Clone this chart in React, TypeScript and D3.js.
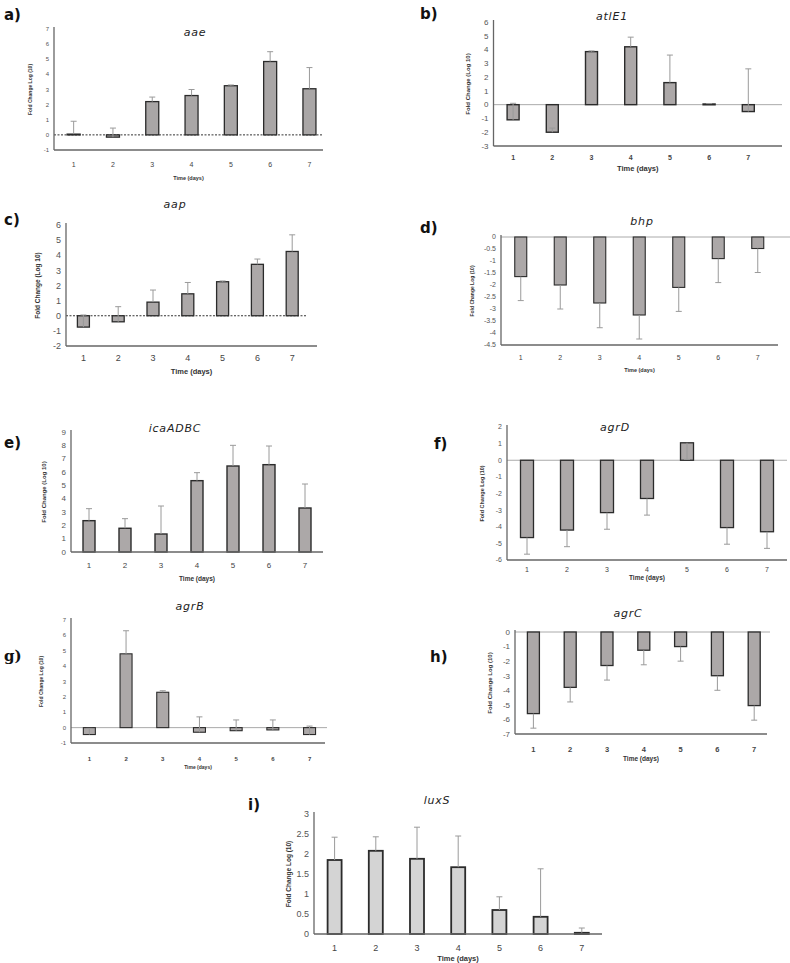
import React from "react";
import * as d3 from "d3";

const days = ["1", "2", "3", "4", "5", "6", "7"];

const aaeValues = [0.05, -0.15, 2.2, 2.6, 3.25, 4.85, 3.05];
const aaeErrors = [0.85, 0.6, 0.3, 0.4, 0.05, 0.65, 1.4];
const atlE1Values = [-1.1, -2.0, 3.85, 4.2, 1.6, 0.05, -0.5];
const atlE1Errors = [1.2, 0.3, 0.05, 0.7, 2.0, 0.03, 3.1];
const aapValues = [-0.75, -0.4, 0.9, 1.45, 2.25, 3.4, 4.25];
const aapErrors = [0.8, 1.0, 0.8, 0.75, 0.05, 0.35, 1.1];
const bhpValues = [-1.65, -2.0, -2.75, -3.25, -2.1, -0.9, -0.48];
const bhpErrors = [1.0, 1.0, 1.03, 1.0, 1.0, 1.0, 1.0];
const icaValues = [2.35, 1.78, 1.35, 5.35, 6.45, 6.55, 3.3];
const icaErrors = [0.9, 0.72, 2.1, 0.6, 1.55, 1.4, 1.8];
const agrDValues = [-4.65, -4.2, -3.15, -2.3, 1.05, -4.05, -4.3];
const agrDErrors = [1.0, 1.0, 1.0, 1.0, 1.0, 1.0, 1.0];
const agrBValues = [-0.45, 4.8, 2.3, -0.3, -0.2, -0.15, -0.45];
const agrBErrors = [0.4, 1.5, 0.1, 1.0, 0.7, 0.65, 0.55];
const agrCValues = [-5.6, -3.8, -2.3, -1.25, -1.0, -3.0, -5.05];
const agrCErrors = [1.0, 1.0, 1.0, 1.0, 1.0, 1.0, 1.0];
const luxSValues = [1.85, 2.08, 1.88, 1.67, 0.6, 0.43, 0.03];
const luxSErrors = [0.57, 0.35, 0.79, 0.78, 0.33, 1.2, 0.12];

const ticksA = d3.range(-1, 8, 1);
const ticksB = d3.range(-3, 7, 1);
const ticksC = d3.range(-2, 7, 1);
const ticksD = d3.range(0, -5, -0.5);
const ticksE = d3.range(0, 10, 1);
const ticksF = d3.range(-6, 3, 1);
const ticksG = d3.range(-1, 8, 1);
const ticksH = d3.range(-7, 1, 1);
const ticksI = d3.range(0, 3.5, 0.5);

type Panel = {
  label: string; labelX: number; labelY: number; labelFont?: string;
  title: string; titleX: number; titleY: number;
  values: number[]; errors: number[]; dir: number;
  ticks: number[]; yTop: number; yBottom: number;
  x0: number; step: number; axisEnd: number; barW: number;
  zero: "dash" | "solid" | "none"; zeroEnd: number;
  tickFont: number; catY: number; catFont: number; catBold?: boolean;
  xLabelY: number; xLabelFont: number; yLabelX: number; yLabelFont: number; yLabelText: string;
  fill: string; strokeW: number;
};

const panels: Panel[] = [
  { label: "a)", labelX: 4, labelY: 20, title: "aae", titleX: 195, titleY: 36,
    values: aaeValues, errors: aaeErrors, dir: 1, ticks: ticksA, yTop: 29, yBottom: 150,
    x0: 54, step: 39.3, axisEnd: 323, barW: 13, zero: "dash", zeroEnd: 323,
    tickFont: 6, catY: 165, catFont: 7, xLabelY: 180, xLabelFont: 5.5, yLabelX: 30, yLabelFont: 5, yLabelText: "Fold Change Log (10)",
    fill: "#a9a6a6", strokeW: 1.3 },
  { label: "b)", labelX: 420, labelY: 19, title: "atlE1", titleX: 612, titleY: 20,
    values: atlE1Values, errors: atlE1Errors, dir: 1, ticks: ticksB, yTop: 22, yBottom: 146,
    x0: 493.5, step: 39.2, axisEnd: 782, barW: 12, zero: "solid", zeroEnd: 782,
    tickFont: 8, catY: 158, catFont: 7, catBold: true, xLabelY: 171, xLabelFont: 7.5, yLabelX: 468, yLabelFont: 6, yLabelText: "Fold Change (Log 10)",
    fill: "#aca8a8", strokeW: 1.4 },
  { label: "c)", labelX: 4, labelY: 225, title: "aap", titleX: 175, titleY: 208,
    values: aapValues, errors: aapErrors, dir: 1, ticks: ticksC, yTop: 225, yBottom: 346,
    x0: 66, step: 34.8, axisEnd: 317, barW: 12, zero: "dash", zeroEnd: 307,
    tickFont: 9, catY: 358, catFont: 9, xLabelY: 374, xLabelFont: 7.5, yLabelX: 38, yLabelFont: 6.5, yLabelText: "Fold Change (Log 10)",
    fill: "#aca8a8", strokeW: 1.3 },
  { label: "d)", labelX: 420, labelY: 233, title: "bhp", titleX: 642, titleY: 225,
    values: bhpValues, errors: bhpErrors, dir: -1, ticks: ticksD, yTop: 237, yBottom: 345,
    x0: 501, step: 39.5, axisEnd: 778, barW: 12, zero: "solid", zeroEnd: 790,
    tickFont: 7, catY: 358, catFont: 7, xLabelY: 372, xLabelFont: 5.5, yLabelX: 472, yLabelFont: 5, yLabelText: "Fold Change Log (10)",
    fill: "#aca8a8", strokeW: 1.1 },
  { label: "e)", labelX: 4, labelY: 448, title: "icaADBC", titleX: 175, titleY: 432,
    values: icaValues, errors: icaErrors, dir: 1, ticks: ticksE, yTop: 432, yBottom: 552,
    x0: 71, step: 36, axisEnd: 323, barW: 12, zero: "none", zeroEnd: 323,
    tickFont: 8, catY: 565, catFont: 8, xLabelY: 581, xLabelFont: 6.5, yLabelX: 44, yLabelFont: 6, yLabelText: "Fold Change (Log 10)",
    fill: "#aca8a8", strokeW: 1.4 },
  { label: "f)", labelX: 434, labelY: 449, title: "agrD", titleX: 615, titleY: 431,
    values: agrDValues, errors: agrDErrors, dir: -1, ticks: ticksF, yTop: 427, yBottom: 560,
    x0: 507, step: 40, axisEnd: 787, barW: 13, zero: "solid", zeroEnd: 787,
    tickFont: 7, catY: 570, catFont: 7, xLabelY: 580, xLabelFont: 6.5, yLabelX: 482, yLabelFont: 5.5, yLabelText: "Fold Change Log (10)",
    fill: "#aca8a8", strokeW: 1.3 },
  { label: "g)", labelX: 4, labelY: 661, labelFont: "DejaVu Serif, serif", title: "agrB", titleX: 190, titleY: 610,
    values: agrBValues, errors: agrBErrors, dir: 1, ticks: ticksG, yTop: 620, yBottom: 743,
    x0: 71, step: 36.7, axisEnd: 325, barW: 12, zero: "solid", zeroEnd: 327,
    tickFont: 6, catY: 759, catFont: 6, catBold: true, xLabelY: 769, xLabelFont: 5, yLabelX: 41, yLabelFont: 5, yLabelText: "Fold Change Log (10)",
    fill: "#aca8a8", strokeW: 1.1 },
  { label: "h)", labelX: 430, labelY: 662, title: "agrC", titleX: 628, titleY: 617,
    values: agrCValues, errors: agrCErrors, dir: -1, ticks: ticksH, yTop: 632, yBottom: 734,
    x0: 515, step: 36.8, axisEnd: 767, barW: 12, zero: "solid", zeroEnd: 770,
    tickFont: 8, catY: 749, catFont: 7.5, catBold: true, xLabelY: 761, xLabelFont: 6.5, yLabelX: 490, yLabelFont: 6, yLabelText: "Fold Change Log (10)",
    fill: "#aca8a8", strokeW: 1.3 },
  { label: "i)", labelX: 248, labelY: 810, title: "luxS", titleX: 437, titleY: 804,
    values: luxSValues, errors: luxSErrors, dir: 1, ticks: ticksI, yTop: 814, yBottom: 934,
    x0: 314, step: 41.2, axisEnd: 602, barW: 14, zero: "none", zeroEnd: 602,
    tickFont: 9, catY: 948, catFont: 9, xLabelY: 961, xLabelFont: 7.5, yLabelX: 289, yLabelFont: 6.5, yLabelText: "Fold Change Log (10)",
    fill: "#d4d4d4", strokeW: 1.8 },
];

const sans = "'Liberation Sans', Arial, sans-serif";

function PanelChart({ p }: { p: Panel }) {
  const x1 = p.x0 + p.step * 7;
  const pad = 1 - p.barW / p.step;
  const x = d3.scaleBand<string>().domain(days).range([p.x0, x1]).paddingInner(pad).paddingOuter(pad / 2);
  const [lo, hi] = d3.extent(p.ticks) as [number, number];
  const y = d3.scaleLinear().domain([lo, hi]).range([p.yBottom, p.yTop]);
  const cx = (d: string) => (x(d) as number) + x.bandwidth() / 2;
  const capW = 3;
  return (
    <g>
      <text x={p.labelX} y={p.labelY} fontFamily={p.labelFont || "'DejaVu Sans', sans-serif"} fontWeight="bold" fontSize={15} fill="#111">{p.label}</text>
      <text x={p.titleX} y={p.titleY} fontFamily="'DejaVu Sans', sans-serif" fontStyle="italic" fontSize={11} letterSpacing={0.8} textAnchor="middle" fill="#222">{p.title}</text>
      {p.ticks.map((t) => (
        <text key={t} x={p.x0 - 5} y={y(t)} dy="0.35em" textAnchor="end" fontFamily={sans} fontSize={p.tickFont} fill="#555">{t}</text>
      ))}
      {p.zero !== "none" && (
        <line x1={p.x0} x2={p.zeroEnd} y1={y(0)} y2={y(0)}
          stroke={p.zero === "dash" ? "#333" : "#aaa"} strokeWidth={p.zero === "dash" ? 1 : 1}
          strokeDasharray={p.zero === "dash" ? "2,1.5" : undefined} />
      )}
      {p.values.map((v, i) => {
        const d = days[i];
        const e = p.errors[i];
        const endV = v + p.dir * e;
        const ex = cx(d);
        return (
          <g key={d}>
            <rect x={x(d)} y={Math.min(y(v), y(0))} width={x.bandwidth()} height={Math.max(Math.abs(y(v) - y(0)), 0.8)}
              fill={p.fill} stroke="#2b2b2b" strokeWidth={p.strokeW} />
            <line x1={ex} x2={ex} y1={y(v)} y2={y(endV)} stroke="#9a9a9a" strokeWidth={1} />
            <line x1={ex - capW} x2={ex + capW} y1={y(endV)} y2={y(endV)} stroke="#9a9a9a" strokeWidth={1} />
          </g>
        );
      })}
      <line x1={p.x0} x2={p.x0} y1={p.yTop - 2} y2={p.yBottom} stroke="#666" strokeWidth={1.3} />
      <line x1={p.x0} x2={p.axisEnd} y1={p.yBottom} y2={p.yBottom} stroke="#666" strokeWidth={1.3} />
      {days.map((d) => (
        <text key={d} x={cx(d)} y={p.catY} dy="0.35em" textAnchor="middle" fontFamily={sans} fontSize={p.catFont}
          fontWeight={p.catBold ? "bold" : "normal"} fill="#444">{d}</text>
      ))}
      <text x={(p.x0 + p.axisEnd) / 2} y={p.xLabelY} textAnchor="middle" fontFamily={sans} fontWeight="bold" fontSize={p.xLabelFont} fill="#333">Time (days)</text>
      <text transform={`translate(${p.yLabelX},${(p.yTop + p.yBottom) / 2}) rotate(-90)`} textAnchor="middle" dy="0.35em"
        fontFamily={sans} fontWeight="bold" fontSize={p.yLabelFont} fill="#333">{p.yLabelText}</text>
    </g>
  );
}

export default function App() {
  return (
    <svg width={790} height={963} style={{ position: "absolute", left: 0, top: 0, background: "#fff" }}>
      <rect width={790} height={963} fill="#fff" />
      {panels.map((p) => <PanelChart key={p.label} p={p} />)}
    </svg>
  );
}
